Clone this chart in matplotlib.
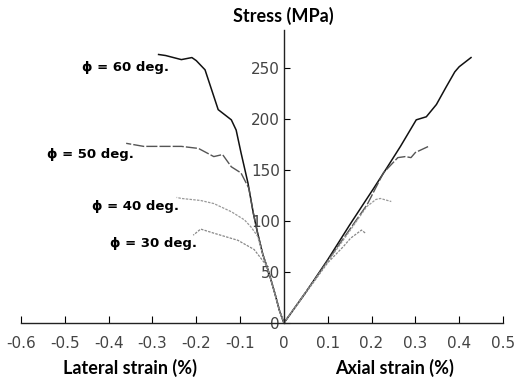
import matplotlib
matplotlib.use("Agg")
import matplotlib.pyplot as plt

# ---- data (strain in %, stress in MPa) ----
ax60_x = [0, 0.05, 0.10, 0.15, 0.205, 0.235, 0.266, 0.302, 0.325, 0.348, 0.37, 0.39, 0.40, 0.427]
ax60_y = [0, 30, 62, 96, 132, 152, 173, 199, 202, 214, 231, 246, 251, 260]
ax50_x = [0, 0.10, 0.19, 0.227, 0.26, 0.277, 0.29, 0.30, 0.33]
ax50_y = [0, 61, 116, 147, 162, 163, 162, 167, 173]
ax40_x = [0, 0.10, 0.15, 0.189, 0.21, 0.22, 0.245]
ax40_y = [0, 60, 90, 114, 121, 122, 119]
ax30_x = [0, 0.10, 0.136, 0.152, 0.177, 0.186]
ax30_y = [0, 59, 75, 83, 91, 88]

lat60_x = [0, -0.01, -0.02, -0.034, -0.048, -0.06, -0.07, -0.082, -0.098, -0.109, -0.12, -0.15, -0.17, -0.18, -0.20, -0.21, -0.234, -0.27, -0.286]
lat60_y = [0, 12, 28, 49, 67, 88, 108, 137, 167, 189, 199, 209, 235, 248, 257, 260, 258, 262, 263]
lat50_x = [0, -0.01, -0.02, -0.034, -0.048, -0.06, -0.07, -0.08, -0.098, -0.12, -0.14, -0.16, -0.195, -0.234, -0.27, -0.32, -0.36]
lat50_y = [0, 12, 28, 49, 67, 88, 108, 132, 147, 153, 165, 163, 171, 173, 173, 173, 176]
lat40_x = [0, -0.01, -0.02, -0.034, -0.048, -0.06, -0.075, -0.09, -0.12, -0.16, -0.19, -0.234, -0.245]
lat40_y = [0, 12, 28, 49, 67, 85, 94, 101, 109, 117, 120, 122, 123]
lat30_x = [0, -0.01, -0.02, -0.034, -0.041, -0.068, -0.105, -0.16, -0.19, -0.207]
lat30_y = [0, 12, 28, 49, 57, 72, 81, 88, 92, 86]

labels = ["\u03d5 = 60 deg.", "\u03d5 = 50 deg.", "\u03d5 = 40 deg.", "\u03d5 = 30 deg."]
label_pos = [(-0.461, 250), (-0.54, 165), (-0.438, 114), (-0.398, 78)]

xticks = [-0.6, -0.5, -0.4, -0.3, -0.2, -0.1, 0, 0.1, 0.2, 0.3, 0.4, 0.5]
xticklabels = ["-0.6", "-0.5", "-0.4", "-0.3", "-0.2", "-0.1", "0", "0.1", "0.2", "0.3", "0.4", "0.5"]
yticks = [0, 50, 100, 150, 200, 250]

title_family = ["Lato", "DejaVu Sans"]

fig = plt.figure(figsize=(5.16, 3.83), dpi=100)
ax = fig.add_axes([21/516, 1-323/383, (503-21)/516, (323-30)/383])
ax.set_xlim(-0.6, 0.5)
ax.set_ylim(0, 287)

styles = [dict(color="#111111", lw=1.1, ls="-"),
          dict(color="#555555", lw=1.0, ls=(0, (8, 1.5))),
          dict(color="#999999", lw=0.9, ls=(0, (2, 1))),
          dict(color="#888888", lw=0.9, ls=(0, (2, 1)))]
for (xa, ya, xl, yl), st in zip([(ax60_x, ax60_y, lat60_x, lat60_y),
                                  (ax50_x, ax50_y, lat50_x, lat50_y),
                                  (ax40_x, ax40_y, lat40_x, lat40_y),
                                  (ax30_x, ax30_y, lat30_x, lat30_y)], styles):
    ax.plot(xa, ya, **st)
    ax.plot(xl, yl, **st)

for lab, (x, y) in zip(labels, label_pos):
    ax.text(x, y, lab, fontsize=9.5, fontweight="bold", ha="left", va="center")

ax.spines["top"].set_visible(False)
ax.spines["right"].set_visible(False)
ax.spines["left"].set_position(("data", 0))
ax.spines["bottom"].set_position(("data", 0))
for s in ("left", "bottom"):
    ax.spines[s].set_color("#222222")
    ax.spines[s].set_linewidth(1.0)

ax.set_xticks(xticks)
ax.set_xticklabels(xticklabels, fontsize=11, color="#444444")
ax.set_yticks(yticks)
ax.set_yticklabels([str(v) for v in yticks], fontsize=11, color="#444444")
ax.tick_params(axis="x", direction="in", length=5, pad=9)
ax.tick_params(axis="y", direction="in", length=4, pad=3)

fig.text(283/516, 1-16/383, "Stress (MPa)", fontsize=13, fontweight="bold", family=title_family, ha="center", va="center")
fig.text(130/516, 1-368/383, "Lateral strain (%)", fontsize=13, fontweight="bold", family=title_family, ha="center", va="center")
fig.text(395/516, 1-368/383, "Axial strain (%)", fontsize=13, fontweight="bold", family=title_family, ha="center", va="center")

fig.savefig("out.png", dpi=100)
